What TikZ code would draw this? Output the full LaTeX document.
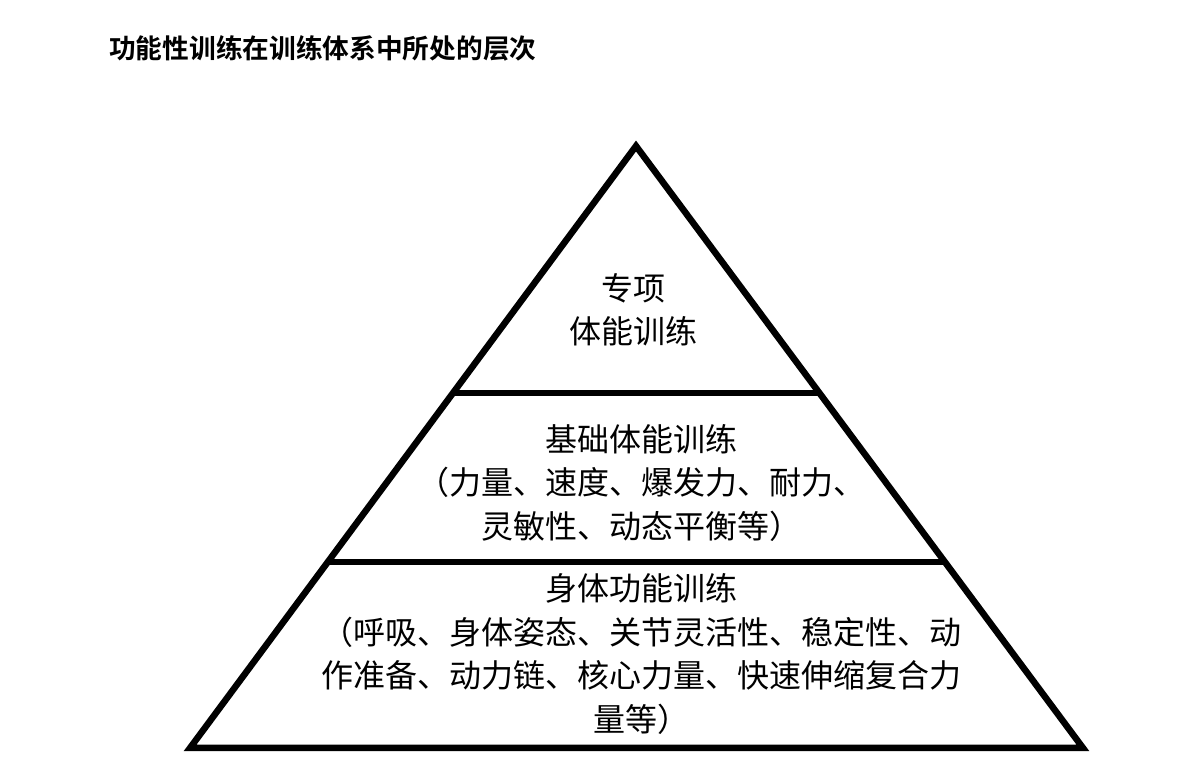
\documentclass[tikz,border=0pt]{standalone}
\usepackage{fontspec}
\setmainfont{Noto Sans CJK SC}
\newfontfamily\cjkbold{Noto Sans CJK SC Bold}
\usetikzlibrary{calc}
\usetikzlibrary{positioning}

\begin{document}
\begin{tikzpicture}[x=1pt,y=1pt,line width=6.5pt,line join=miter,
    level/.style={align=center,inner sep=0pt,font=\fontsize{32}{43.5}\selectfont},
    heading/.style={anchor=west,inner sep=0pt,font=\cjkbold\fontsize{26.7}{30}\selectfont}]
        \useasboundingbox (0,0) rectangle (1200,760);
        \coordinate (bl)  at (190,12);
        \coordinate (br)  at (1083,12);
        \coordinate (top) at (636,614);
        \draw (bl) -- (br) -- (top) -- cycle;
        \coordinate (ml) at ($(bl)!0.309!(top)$);
        \coordinate (mr) at ($(br)!0.309!(top)$);
        \coordinate (ul) at ($(bl)!0.59!(top)$);
        \coordinate (ur) at ($(br)!0.59!(top)$);
        \draw (ml) -- (mr);
        \draw (ul) -- (ur);
        \node (title) [heading] at (106,712) {功能性训练在训练体系中所处的层次};
        \node (special) [level] at (633,450) {专项\\体能训练};
        \node (basic)   [level] at (641,277) {基础体能训练\\（力量、速度、爆发力、耐力、\\灵敏性、动态平衡等）};
        \node (body)    [level] at (641,106) {身体功能训练\\（呼吸、身体姿态、关节灵活性、稳定性、动\\作准备、动力链、核心力量、快速伸缩复合力\\量等）};
      \end{tikzpicture}
\end{document}
